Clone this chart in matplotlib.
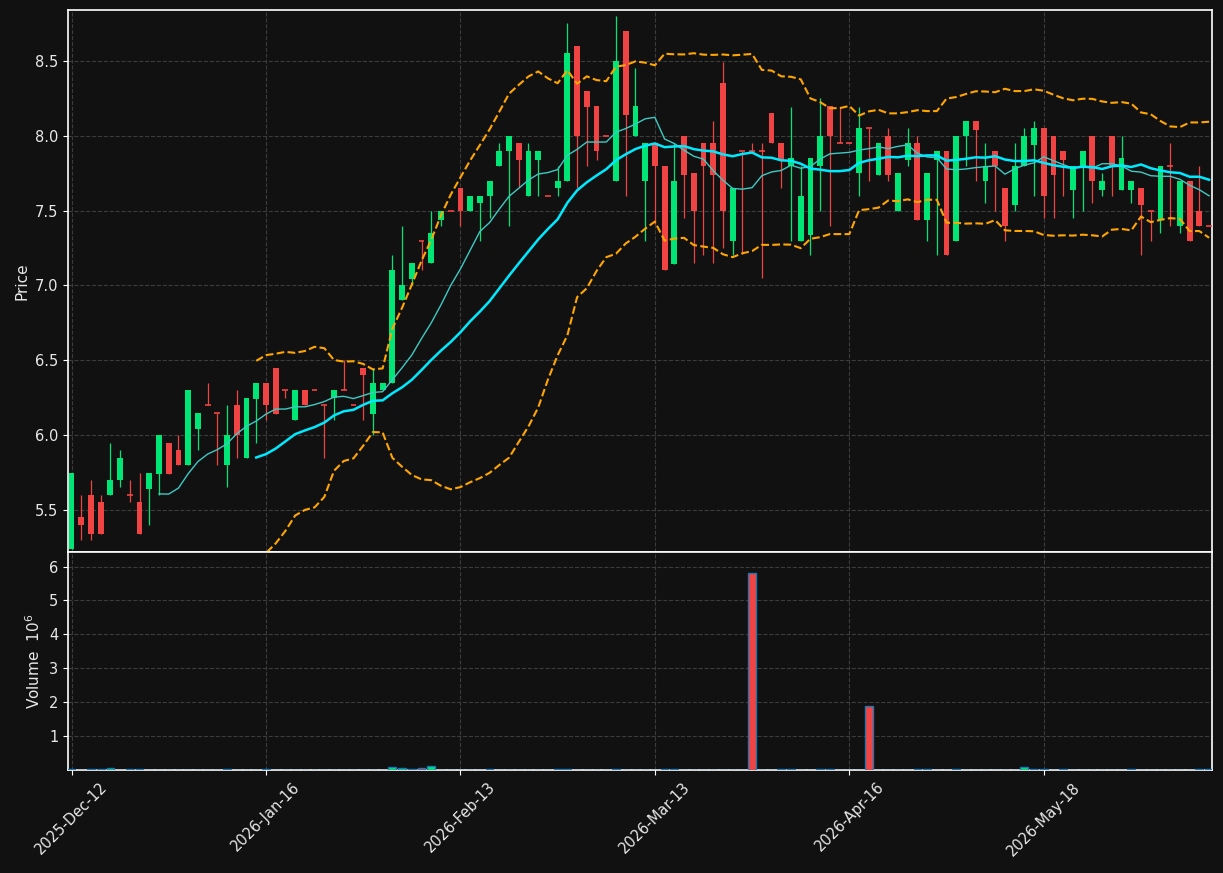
import numpy as np
import pandas as pd
import matplotlib
matplotlib.use("Agg")
import matplotlib.pyplot as plt

# ---------------- data ----------------
opens = [5.24, 5.45, 5.60, 5.55, 5.60, 5.70, 5.60, 5.55, 5.64, 5.74,
         5.95, 5.90, 5.80, 6.04, 6.20, 6.15, 5.80, 6.20, 5.85, 6.24,
         6.35, 6.45, 6.30, 6.10, 6.30, 6.30, 6.20, 6.25, 6.30, 6.20,
         6.45, 6.14, 6.30, 6.35, 6.90, 7.04, 7.30, 7.15, 7.44, 7.50,
         7.65, 7.50, 7.55, 7.60, 7.80, 7.90, 7.95, 7.60, 7.84, 7.60,
         7.65, 7.70, 8.60, 8.30, 8.20, 8.00, 7.70, 8.70, 8.00, 7.70,
         7.95, 7.80, 7.14, 8.00, 7.75, 7.95, 7.95, 8.35, 7.30, 7.90,
         7.90, 7.90, 8.15, 7.95, 7.80, 7.30, 7.34, 7.80, 8.20, 7.95,
         7.95, 7.75, 8.05, 7.74, 8.00, 7.50, 7.84, 7.95, 7.44, 7.84,
         7.90, 7.30, 8.00, 8.10, 7.70, 7.90, 7.65, 7.54, 7.80, 7.94,
         8.05, 8.00, 7.90, 7.64, 7.80, 8.00, 7.64, 8.00, 7.64, 7.64,
         7.65, 7.50, 7.44, 7.80, 7.40, 7.70, 7.50, 7.40]
highs = [5.75, 5.60, 5.70, 5.60, 5.95, 5.90, 5.70, 5.75, 5.75, 6.00,
         5.95, 6.00, 6.30, 6.15, 6.35, 6.15, 6.20, 6.30, 6.25, 6.35,
         6.35, 6.45, 6.30, 6.30, 6.30, 6.30, 6.20, 6.30, 6.50, 6.20,
         6.45, 6.45, 6.35, 7.20, 7.40, 7.15, 7.30, 7.50, 7.50, 7.50,
         7.65, 7.60, 7.60, 7.70, 7.95, 8.00, 7.95, 7.95, 7.90, 7.60,
         7.80, 8.75, 8.60, 8.30, 8.20, 8.00, 8.80, 8.70, 8.45, 7.95,
         7.95, 7.80, 7.95, 8.00, 7.75, 7.95, 8.10, 8.49, 7.65, 7.90,
         7.95, 7.95, 8.15, 7.95, 8.19, 7.80, 7.85, 8.25, 8.20, 8.19,
         7.95, 8.19, 8.05, 7.95, 8.05, 7.75, 8.05, 8.00, 7.75, 7.90,
         7.90, 8.00, 8.10, 8.10, 7.95, 7.90, 7.65, 7.95, 8.05, 8.10,
         8.05, 8.00, 7.90, 7.80, 7.90, 8.00, 7.75, 8.00, 8.00, 7.70,
         7.65, 7.50, 7.80, 7.95, 7.70, 7.70, 7.80, 7.40]
lows = [5.24, 5.30, 5.30, 5.34, 5.60, 5.65, 5.55, 5.34, 5.40, 5.60,
        5.74, 5.80, 5.80, 5.90, 6.20, 5.80, 5.65, 5.85, 5.85, 5.95,
        6.10, 6.14, 6.25, 6.10, 6.20, 6.30, 5.85, 6.10, 6.30, 6.20,
        6.10, 6.00, 6.30, 6.35, 6.90, 7.00, 7.10, 7.15, 7.40, 7.50,
        7.40, 7.50, 7.30, 7.45, 7.80, 7.40, 7.66, 7.60, 7.60, 7.60,
        7.60, 7.70, 7.65, 7.80, 7.84, 8.00, 7.70, 7.60, 8.00, 7.30,
        7.41, 7.10, 7.14, 7.45, 7.15, 7.20, 7.15, 7.25, 7.20, 7.21,
        7.90, 7.05, 7.95, 7.65, 7.30, 7.30, 7.20, 7.50, 7.40, 7.95,
        7.95, 7.60, 7.70, 7.74, 7.70, 7.50, 7.80, 7.44, 7.30, 7.20,
        7.20, 7.30, 7.80, 7.70, 7.55, 7.50, 7.30, 7.50, 7.80, 7.60,
        7.45, 7.45, 7.60, 7.45, 7.50, 7.55, 7.60, 7.60, 7.64, 7.55,
        7.20, 7.30, 7.35, 7.40, 7.35, 7.30, 7.40, 7.40]
closes = [5.75, 5.40, 5.34, 5.34, 5.70, 5.85, 5.60, 5.34, 5.75, 6.00,
          5.74, 5.80, 6.30, 6.15, 6.20, 6.15, 6.00, 6.00, 6.25, 6.35,
          6.20, 6.14, 6.30, 6.30, 6.20, 6.30, 6.20, 6.30, 6.30, 6.20,
          6.40, 6.35, 6.35, 7.10, 7.00, 7.15, 7.30, 7.35, 7.50, 7.50,
          7.50, 7.60, 7.60, 7.70, 7.90, 8.00, 7.84, 7.90, 7.90, 7.60,
          7.70, 8.55, 8.00, 8.19, 7.90, 8.00, 8.50, 8.14, 8.20, 7.95,
          7.80, 7.10, 7.70, 7.74, 7.50, 7.80, 7.74, 7.50, 7.65, 7.90,
          7.90, 7.90, 7.95, 7.84, 7.85, 7.60, 7.85, 8.00, 8.00, 7.95,
          7.95, 8.05, 8.05, 7.95, 7.74, 7.75, 7.95, 7.44, 7.75, 7.90,
          7.20, 8.00, 8.10, 8.04, 7.80, 7.80, 7.40, 7.80, 8.00, 8.05,
          7.60, 7.74, 7.84, 7.80, 7.90, 7.70, 7.70, 7.80, 7.85, 7.70,
          7.54, 7.50, 7.80, 7.80, 7.70, 7.30, 7.40, 7.40]
volumes = [20000, 0, 20000, 20000, 60000, 0, 20000, 20000, 0, 0,
           0, 0, 0, 0, 0, 0, 20000, 0, 0, 0,
           20000, 0, 0, 0, 0, 0, 0, 0, 0, 0,
           0, 0, 0, 80000, 50000, 20000, 50000, 110000, 0, 0,
           0, 0, 0, 20000, 0, 0, 0, 0, 0, 0,
           20000, 20000, 0, 0, 0, 0, 20000, 0, 0, 0,
           0, 20000, 20000, 0, 0, 0, 0, 0, 0, 0,
           5800000, 0, 0, 20000, 20000, 0, 0, 20000, 20000, 0,
           0, 0, 1880000, 0, 0, 0, 0, 20000, 20000, 0,
           0, 20000, 0, 0, 0, 0, 0, 0, 80000, 20000,
           20000, 0, 20000, 0, 0, 0, 0, 0, 0, 20000,
           0, 0, 0, 0, 0, 0, 20000, 20000]
tick_labels = ["2025-Dec-12", "2026-Jan-16", "2026-Feb-13",
               "2026-Mar-13", "2026-Apr-16", "2026-May-18"]
tick_step = 20
mav_short, mav_long = 10, 20
bb_period, bb_k = 20, 2

# ---------------- style ----------------
BG = "#111111"
UP = "#00e676"
DOWN = "#f04444"
GRID = "#3c3c3c"
FG = "#e8e8e8"

df = pd.DataFrame({"Open": opens, "High": highs, "Low": lows,
                   "Close": closes, "Volume": volumes})
n = len(df)
x = np.arange(n)
up = df["Close"] > df["Open"]
colors = np.where(up, UP, DOWN)

ma_s = df["Close"].rolling(mav_short).mean()
ma_l = df["Close"].rolling(mav_long).mean()
sd = df["Close"].rolling(bb_period).std(ddof=0)
bb_mid = df["Close"].rolling(bb_period).mean()
bb_up = bb_mid + bb_k * sd
bb_lo = bb_mid - bb_k * sd

fig = plt.figure(figsize=(12.23, 8.73), dpi=100, facecolor=BG)
L, W = 68 / 1223, (1212 - 68) / 1223
ax = fig.add_axes([L, (873 - 552) / 873, W, 542 / 873], facecolor=BG)
axv = fig.add_axes([L, (873 - 770) / 873, W, 218 / 873], facecolor=BG, sharex=ax)

# candles
body_w = 0.6
ax.vlines(x, df["Low"], df["High"], colors=colors, linewidth=0.9, zorder=2)
heights = (df["Close"] - df["Open"]).abs()
bottoms = np.minimum(df["Open"], df["Close"])
ax.bar(x, heights, width=body_w, bottom=bottoms, color=colors,
       linewidth=0, zorder=3)
doji = heights < 1e-9
ax.hlines(df["Close"][doji], x[doji] - body_w / 2, x[doji] + body_w / 2,
          colors=colors[doji], linewidth=1.2, zorder=3)

# moving averages & bands
ax.plot(x, ma_s, color="#3fc9c3", linewidth=1.0, zorder=4)
ax.plot(x, ma_l, color="#00eaff", linewidth=1.8, zorder=4)
ax.plot(x, bb_up, color="#ffa500", linewidth=1.5, linestyle="--", zorder=4)
ax.plot(x, bb_lo, color="#ffa500", linewidth=1.5, linestyle="--", zorder=4)

# volume
axv.bar(x, df["Volume"] / 1e6, width=0.8, color=colors,
        edgecolor="#1f77b4", linewidth=1.0, zorder=3)

ticks = np.arange(0, len(tick_labels) * tick_step, tick_step)
for a in (ax, axv):
    a.set_xlim(-0.36, 117.3)
    a.grid(True, color=GRID, linestyle="--", linewidth=0.8, zorder=0)
    a.set_axisbelow(True)
    for s in a.spines.values():
        s.set_color("white")
        s.set_linewidth(1.2)
    a.tick_params(colors="white", labelcolor=FG, labelsize=10.5)

ax.set_ylim(5.219, 8.84)
ax.set_yticks(np.arange(5.5, 8.51, 0.5))
ax.set_yticklabels([f"{v:.1f}" for v in np.arange(5.5, 8.51, 0.5)])
ax.set_ylabel("Price", color=FG, fontsize=11)
ax.tick_params(axis="x", labelbottom=False, length=0)

axv.set_ylim(0, 6.43)
axv.set_yticks([1, 2, 3, 4, 5, 6])
axv.set_ylabel("Volume  $10^{6}$", color=FG, fontsize=11)
axv.set_xticks(ticks)
axv.set_xticklabels(tick_labels, rotation=45)

fig.savefig("out.png", dpi=100, facecolor=BG)
